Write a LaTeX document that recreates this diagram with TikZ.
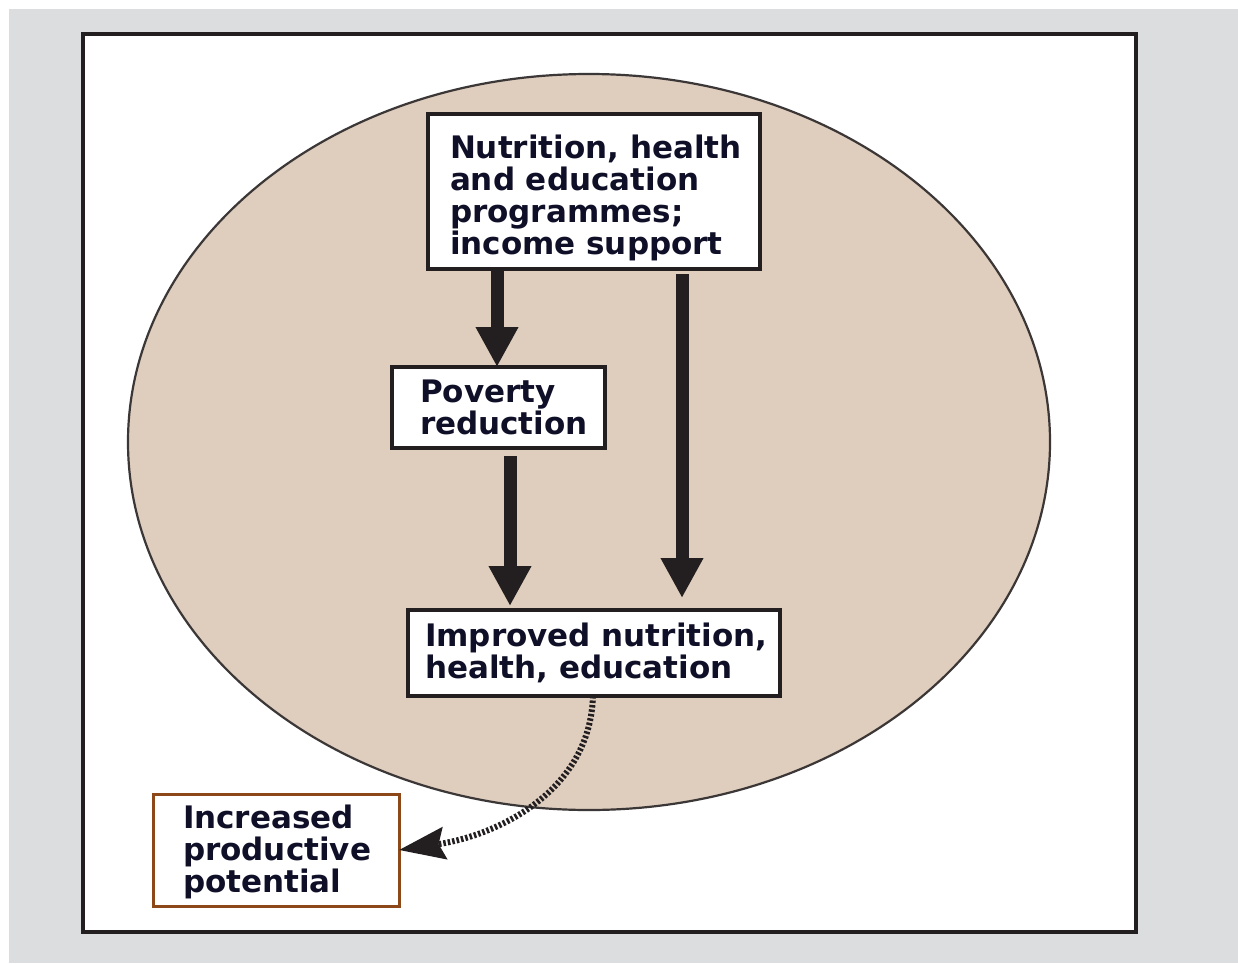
\documentclass[tikz,border=0pt]{standalone}
\usepackage{fontspec}
\setmainfont{DejaVu Sans}
\usetikzlibrary{arrows.meta}
\definecolor{bggray}{RGB}{220,221,223}
\definecolor{tan}{RGB}{223,205,190}
\definecolor{inkdark}{RGB}{35,31,32}
\definecolor{txt}{RGB}{15,15,40}
\definecolor{brownb}{RGB}{140,72,25}
\definecolor{rimgray}{RGB}{60,55,55}
\tikzset{
  lbl/.style={draw=inkdark, line width=3.5pt, fill=white, anchor=north west,
    font=\fontsize{31}{32}\selectfont\bfseries, text=txt,
    inner sep=0pt, outer sep=0pt},
  bigarrow/.style={draw=inkdark, line width=13pt,
    -{Triangle[width=40pt,length=40pt]}},
  dotarrow/.style={draw=inkdark, line width=6pt, dash pattern=on 2.5pt off 2pt,
    -{Stealth[width=32pt,length=46pt,inset=6pt]}},
}
\begin{document}
\begin{tikzpicture}[x=1pt,y=-1pt]
  \useasboundingbox (0,0) rectangle (1238,963);
  \fill[white] (0,0) rectangle (1238,963);
  \fill[bggray] (9,9) rectangle (1238,963);
  \draw[inkdark, line width=3.5pt, fill=white] (83,34) rectangle (1136,932);
  \draw[rimgray, line width=2.2pt, fill=tan] (589,442) ellipse [x radius=461, y radius=368];

  % boxes
  \node[lbl, minimum width=332pt, minimum height=155pt] (prog) at (428,114)
        {\hspace*{22pt}\parbox[c]{310pt}{\vspace*{12pt}Nutrition, health\\and education\\programmes;\\income support}};
  \node[lbl, minimum width=213pt, minimum height=81pt] (pov) at (392,367)
        {\hspace*{28pt}\parbox[c]{185pt}{Poverty\\reduction}};
  \node[lbl, minimum width=372pt, minimum height=86pt] (imp) at (408,610)
        {\hspace*{17pt}\parbox[c]{355pt}{Improved nutrition,\\health, education}};
  \node[lbl, draw=brownb, line width=3pt, minimum width=246pt, minimum height=112pt] (inc) at (153,794)
        {\hspace*{30pt}\parbox[c]{216pt}{\vspace*{4pt}Increased\\productive\\potential}};

  % x positions of the connectors
  \coordinate (xa) at (497,0);
  \coordinate (xb) at (682,0);
  \coordinate (xc) at (510,0);
  \coordinate (xd) at (593,0);

  \draw[bigarrow] (prog.south -| xa) -- (pov.north -| xa);
  \draw[bigarrow] ([yshift=-5pt]prog.south -| xb) -- ([yshift=12pt]imp.north -| xb);
  \draw[bigarrow] ([yshift=-8pt]pov.south -| xc) -- ([yshift=4pt]imp.north -| xc);
  \draw[dotarrow] (imp.south -| xd) .. controls (590,790) and (500,835) .. (inc.east);
\end{tikzpicture}
\end{document}
